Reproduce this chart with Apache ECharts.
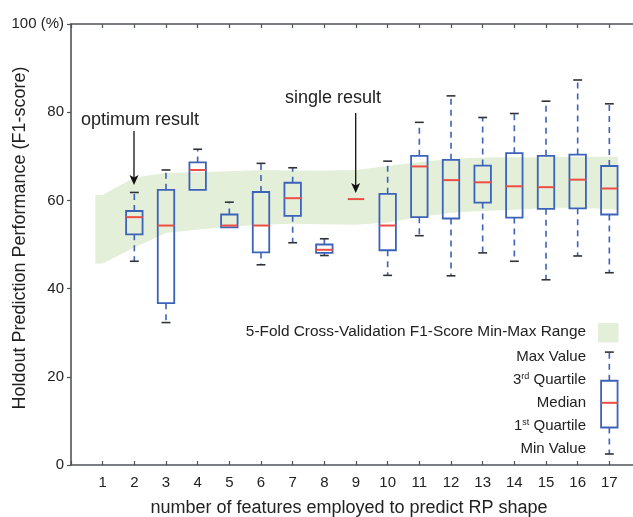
<!DOCTYPE html>
<html>
<head>
<meta charset="utf-8">
<script src="https://cdn.jsdelivr.net/npm/echarts@6/dist/echarts.min.js"></script>
<style>
html, body { margin: 0; padding: 0; background: #fff; }
#chart { width: 633px; height: 517px; }
</style>
</head>
<body>
<div id="chart"></div>
<script>
// box plot data, one entry per number of features (2..17)
const featureCounts = [2, 3, 4, 5, 6, 7, 8, 9, 10, 11, 12, 13, 14, 15, 16, 17];
const boxMin    = [46.2, 32.3, 62.4, 53.9, 45.4, 50.4, 47.5, 60.3, 43.0, 52.0, 42.9, 48.1, 46.2, 42.0, 47.4, 43.6];
const boxQ1     = [52.3, 36.7, 62.4, 53.9, 48.2, 56.5, 48.1, 60.3, 48.7, 56.2, 55.9, 59.5, 56.1, 58.1, 58.2, 56.8];
const boxMedian = [56.2, 54.3, 66.9, 54.3, 54.3, 60.5, 48.8, 60.3, 54.3, 67.7, 64.6, 64.1, 63.2, 63.0, 64.7, 62.7];
const boxQ3     = [57.6, 62.4, 68.6, 56.8, 61.9, 64.0, 50.0, 60.3, 61.5, 70.1, 69.2, 67.9, 70.7, 70.1, 70.4, 67.8];
const boxMax    = [61.8, 66.9, 71.6, 59.6, 68.4, 67.4, 51.3, 60.3, 68.9, 77.7, 83.7, 78.8, 79.7, 82.5, 87.3, 81.9];

// 5-fold CV min-max band
const bandX      = [0.77, 1, 2, 3, 4, 5, 6, 7, 8, 9, 10, 11, 12, 13, 14, 15, 16, 17, 17.27];
const bandTop    = [61.2, 61.2, 65.2, 66.2, 66.4, 66.6, 66.9, 66.8, 66.8, 66.9, 67.8, 68.7, 69.4, 69.7, 69.8, 69.8, 69.9, 69.9, 69.9];
const bandBottom = [45.7, 45.7, 49.3, 52.6, 53.4, 54.0, 54.5, 54.7, 54.6, 54.5, 55.0, 56.2, 57.2, 57.6, 57.9, 58.3, 58.4, 58.0, 57.8];

// sample box drawn in the legend: [x, min, q1, median, q3, max]
const legendBox = [17, 2.5, 8.5, 14.1, 19.1, 25.6];

const xTicks = [1, 2, 3, 4, 5, 6, 7, 8, 9, 10, 11, 12, 13, 14, 15, 16, 17];
const yTicks = [0, 20, 40, 60, 80, 100];

const FONT = "'Liberation Sans', Arial, Helvetica, sans-serif";
const BLUE = '#3b63b8';
const RED = '#ec4f45';
const CAP = '#2f3236';
const GREEN = '#e3efd8';
const AXIS = '#4f5458';
const TEXT = '#222';

const boxData = featureCounts.map((f, i) => [f, boxMin[i], boxQ1[i], boxMedian[i], boxQ3[i], boxMax[i]]);

function renderBox(params, api) {
  const x = api.value(0);
  const pMin = api.coord([x, api.value(1)]);
  const pQ1 = api.coord([x, api.value(2)]);
  const pMed = api.coord([x, api.value(3)]);
  const pQ3 = api.coord([x, api.value(4)]);
  const pMax = api.coord([x, api.value(5)]);
  const unit = api.size([1, 0])[0];
  const half = unit * 0.26;
  const capHalf = unit * 0.14;
  const cx = pMed[0];
  const kids = [];
  const dash = { stroke: BLUE, lineWidth: 1.6, lineDash: [6, 5] };
  const cap = { stroke: CAP, lineWidth: 1.6 };
  if (pQ3[1] - pMax[1] > 0.5) {
    kids.push({ type: 'line', shape: { x1: cx, y1: pQ3[1], x2: cx, y2: pMax[1] }, style: dash });
    kids.push({ type: 'line', shape: { x1: cx - capHalf, y1: pMax[1], x2: cx + capHalf, y2: pMax[1] }, style: cap });
  }
  if (pMin[1] - pQ1[1] > 0.5) {
    kids.push({ type: 'line', shape: { x1: cx, y1: pQ1[1], x2: cx, y2: pMin[1] }, style: dash });
    kids.push({ type: 'line', shape: { x1: cx - capHalf, y1: pMin[1], x2: cx + capHalf, y2: pMin[1] }, style: cap });
  }
  if (pQ1[1] - pQ3[1] > 0.5) {
    kids.push({
      type: 'rect',
      shape: { x: cx - half, y: pQ3[1], width: half * 2, height: pQ1[1] - pQ3[1] },
      style: { fill: 'none', stroke: BLUE, lineWidth: 1.8 }
    });
  }
  kids.push({ type: 'line', shape: { x1: cx - half, y1: pMed[1], x2: cx + half, y2: pMed[1] }, style: { stroke: RED, lineWidth: 2 } });
  return { type: 'group', children: kids };
}

function renderBand(params, api) {
  const pts = [];
  for (let i = 0; i < bandX.length; i++) pts.push(api.coord([bandX[i], bandTop[i]]));
  for (let i = bandX.length - 1; i >= 0; i--) pts.push(api.coord([bandX[i], bandBottom[i]]));
  return { type: 'polygon', shape: { points: pts }, style: { fill: GREEN } };
}

const legendRows = [
  { y: 357, text: 'Max Value' },
  { y: 380, text: '{n|3}{s|rd}{n| Quartile}' },
  { y: 403, text: 'Median' },
  { y: 426, text: '{n|1}{s|st}{n| Quartile}' },
  { y: 449, text: 'Min Value' }
];
const rich = {
  n: { fontSize: 15, fontFamily: FONT, color: TEXT },
  s: { fontSize: 9, fontFamily: FONT, color: TEXT, verticalAlign: 'top', lineHeight: 10 }
};

const graphics = [
  { type: 'text', x: 20, y: 238, rotation: Math.PI / 2, style: { text: 'Holdout Prediction Performance (F1-score)', font: '18px ' + FONT, fill: TEXT, textAlign: 'center', textVerticalAlign: 'middle' } },
  { type: 'text', x: 140, y: 120, style: { text: 'optimum result', font: '18px ' + FONT, fill: TEXT, textAlign: 'center', textVerticalAlign: 'middle' } },
  { type: 'line', shape: { x1: 134, y1: 131, x2: 134, y2: 178 }, style: { stroke: '#111', lineWidth: 1.3 } },
  { type: 'polygon', shape: { points: [[129.5, 175], [134, 177.5], [138.5, 175], [134, 185]] }, style: { fill: '#111' } },
  { type: 'text', x: 333, y: 98, style: { text: 'single result', font: '18px ' + FONT, fill: TEXT, textAlign: 'center', textVerticalAlign: 'middle' } },
  { type: 'line', shape: { x1: 355.7, y1: 113, x2: 355.7, y2: 186 }, style: { stroke: '#111', lineWidth: 1.3 } },
  { type: 'polygon', shape: { points: [[351.2, 183], [355.7, 185.5], [360.2, 183], [355.7, 193]] }, style: { fill: '#111' } },
  { type: 'text', x: 586, y: 332, style: { text: '5-Fold Cross-Validation F1-Score Min-Max Range', font: '15.4px ' + FONT, fill: TEXT, textAlign: 'right', textVerticalAlign: 'middle' } },
  { type: 'rect', shape: { x: 598, y: 323, width: 20.5, height: 19.5 }, style: { fill: GREEN } }
].concat(legendRows.map(r => ({
  type: 'text', x: 586, y: r.y,
  style: { text: r.text, rich: rich, font: '15px ' + FONT, fill: TEXT, align: 'right', verticalAlign: 'middle' }
})));
graphics.forEach(g => { g.z = 10; });

const chart = echarts.init(document.getElementById('chart'));
chart.setOption({
  animation: false,
  backgroundColor: '#fff',
  textStyle: { fontFamily: FONT },
  grid: { left: 71, right: -8, top: 24, bottom: 52, containLabel: false, outerBoundsMode: 'none' },
  xAxis: [
    {
      type: 'value', min: 0, max: 18, interval: 1, position: 'bottom',
      axisLine: { lineStyle: { color: AXIS, width: 1.6 } },
      axisTick: { inside: true, length: 4, lineStyle: { color: AXIS, width: 1.2 } },
      axisLabel: { color: TEXT, fontSize: 15, margin: 10, formatter: v => xTicks.includes(v) ? String(v) : '' },
      splitLine: { show: false },
      name: 'number of features employed to predict RP shape',
      nameLocation: 'middle', nameGap: 34,
      nameTextStyle: { color: TEXT, fontSize: 18, padding: [0, 14, 0, 0] }
    },
    {
      type: 'value', min: 0, max: 18, interval: 1, position: 'top',
      axisLine: { lineStyle: { color: AXIS, width: 1.6 } },
      axisTick: { inside: true, length: 4, lineStyle: { color: AXIS, width: 1.2 } },
      axisLabel: { show: false },
      splitLine: { show: false }
    }
  ],
  yAxis: {
    type: 'value', min: 0, max: 100, interval: 20,
    axisLine: { show: true, lineStyle: { color: AXIS, width: 1.6 } },
    axisTick: { show: true, length: 4, lineStyle: { color: AXIS, width: 1.2 } },
    axisLabel: { color: TEXT, fontSize: 15, margin: 7, padding: [0, 0, 7, 0], formatter: v => yTicks.includes(v) ? (v === 100 ? '100 (%)' : String(v)) : '' },
    splitLine: { show: false }
  },
  series: [
    {
      type: 'custom', name: 'band', renderItem: renderBand,
      data: [[bandX[0], bandTop[0]]], encode: { x: 0, y: 1 }, z: 1, silent: true
    },
    {
      type: 'custom', name: 'boxes', renderItem: renderBox,
      data: boxData, encode: { x: 0, y: [1, 2, 3, 4, 5] }, z: 3
    },
    {
      type: 'custom', name: 'legend sample', renderItem: renderBox,
      data: [legendBox], encode: { x: 0, y: [1, 2, 3, 4, 5] }, z: 3
    }
  ],
  graphic: graphics
});
</script>
</body>
</html>
